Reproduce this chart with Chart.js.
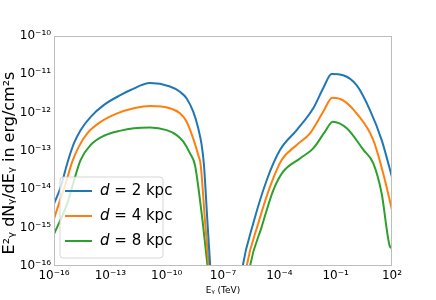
<!DOCTYPE html>
<html>
<head>
<meta charset="utf-8">
<script src="https://cdn.jsdelivr.net/npm/chart.js@4/dist/chart.umd.min.js"></script>
<style>
html,body{margin:0;padding:0;background:#fff;}
#wrap{width:436px;height:300px;}
</style>
</head>
<body>
<div id="wrap"><canvas id="c" width="436" height="300"></canvas></div>
<script>
// Photon energy (TeV) and flux E^2 dN/dE (erg/cm^2 s) for each distance
const seriesLabels = ['d = 2 kpc', 'd = 4 kpc', 'd = 8 kpc'];
const seriesColors = ['#1f77b4', '#ff7f0e', '#2ca02c'];
const yTitle = 'E\u00B2\u1D67 dN\u1D67/dE\u1D67 in erg/cm\u00B2s';
const xTitle = 'E\u1D67 (TeV)';

const energy2 = [1e-16, 2.3e-16, 5.1e-16, 1.16e-15, 2.6e-15, 9.0e-15, 4.6e-14, 3.6e-13, 1.2e-12, 1.3e-11, 1.5e-10, 5.1e-10, 1.16e-9, 2.6e-9, 4.8e-9, 7.3e-9, 9.7e-9, 1.46e-8, 2.1e-8, 2.8e-8,
                 6.3e-7, 1.1e-6, 4.1e-6, 2.1e-5, 1.1e-4, 8.4e-4, 6.4e-3, 2.2e-2, 6.1e-2, 0.25, 1.3, 6.7, 28, 100];
const flux2   = [4.2e-15, 1.17e-14, 4.8e-14, 1.6e-13, 3.5e-13, 7.8e-13, 1.6e-12, 2.9e-12, 3.9e-12, 5.9e-12, 4.8e-12, 3.5e-12, 2.35e-12, 1.06e-12, 3.9e-13, 1.44e-13, 4.3e-14, 1.6e-15, 9.5e-17, 1e-17,
                 1e-17, 9.5e-17, 1.3e-15, 1.7e-14, 1.07e-13, 3.5e-13, 1.3e-12, 4.4e-12, 1.02e-11, 9.5e-12, 5.2e-12, 1.17e-12, 1.95e-13, 2.1e-14];

const energy4 = [1e-16, 1.85e-16, 4.2e-16, 9.4e-16, 2.1e-15, 5.9e-15, 3.1e-14, 2.35e-13, 1.8e-12, 1.3e-11, 1.5e-10, 5.1e-10, 1.16e-9, 2.6e-9, 4.8e-9, 6.5e-9, 1.1e-8, 1.75e-8, 2.6e-8,
                 1.0e-6, 1.8e-6, 7.6e-6, 3.2e-5, 1.33e-4, 8.4e-4, 4.3e-3, 2.2e-2, 6.6e-2, 0.25, 1.3, 10, 34, 100];
const flux4   = [1.7e-15, 4.3e-15, 1.44e-14, 5.3e-14, 1.3e-13, 2.9e-13, 5.8e-13, 9.6e-13, 1.3e-12, 1.5e-12, 1.3e-12, 9.6e-13, 5.8e-13, 2.1e-13, 7.9e-14, 4.3e-14, 1.5e-15, 9.5e-17, 1e-17,
                 1e-17, 9.5e-17, 1.3e-15, 1.17e-14, 5.8e-14, 1.44e-13, 2.9e-13, 1.07e-12, 2.45e-12, 2.1e-12, 9.6e-13, 1.95e-13, 2.6e-14, 2.9e-15];

const energy8 = [1e-16, 5.1e-16, 1.16e-15, 2.6e-15, 9.0e-15, 4.6e-14, 3.6e-13, 1.8e-12, 1.3e-11, 1.0e-10, 3.4e-10, 7.7e-10, 1.75e-9, 3.2e-9, 7.3e-9, 1.1e-8, 1.5e-8, 2.2e-8,
                 1.5e-6, 2.7e-6, 1.15e-5, 4.8e-5, 1.6e-4, 1.26e-3, 6.4e-3, 2.7e-2, 6.9e-2, 0.39, 3.0, 10, 28, 78, 100];
const flux8   = [6.8e-16, 4.3e-15, 1.7e-14, 5.8e-14, 1.44e-13, 2.5e-13, 3.4e-13, 3.9e-13, 4.1e-13, 3.5e-13, 2.6e-13, 1.75e-13, 8.7e-14, 4.3e-14, 2.35e-15, 4.0e-16, 9.5e-17, 1e-17,
                 1e-17, 9.5e-17, 1.05e-15, 9.6e-15, 2.9e-14, 6.4e-14, 1.17e-13, 3.2e-13, 5.8e-13, 3.9e-13, 1.07e-13, 4.8e-14, 7.9e-15, 3.2e-16, 2.9e-16];

const xTicks = [1e-16, 1e-13, 1e-10, 1e-7, 1e-4, 1e-1, 1e2];
const yTicks = [1e-16, 1e-15, 1e-14, 1e-13, 1e-12, 1e-11, 1e-10];

const SUP = {'-':'\u207B','0':'\u2070','1':'\u00B9','2':'\u00B2','3':'\u00B3','4':'\u2074','5':'\u2075','6':'\u2076','7':'\u2077','8':'\u2078','9':'\u2079'};
function pow10Label(v){
  const e = Math.round(Math.log10(v));
  return '10' + String(e).split('').map(ch => SUP[ch]).join('');
}
function toPoints(xs, ys){ return xs.map((x,i) => ({x: x, y: ys[i]})); }

const FONT = 'DejaVu Sans';

const frame = {
  id: 'frame',
  afterDatasetsDraw(chart){
    const a = chart.chartArea, ctx = chart.ctx;
    ctx.save();
    ctx.strokeStyle = '#bdbdbd';
    ctx.lineWidth = 1;
    ctx.strokeRect(Math.round(a.left)+0.5, Math.round(a.top)+0.5, Math.round(a.right-a.left)-1, Math.round(a.bottom-a.top)-1);
    ctx.restore();
  }
};

const yAxisTitle = {
  id: 'yAxisTitle',
  afterDraw(chart){
    const a = chart.chartArea, ctx = chart.ctx;
    ctx.save();
    ctx.translate(10, (a.top + a.bottom) / 2 + 12);
    ctx.rotate(-Math.PI / 2);
    ctx.fillStyle = '#000';
    ctx.textAlign = 'center';
    ctx.textBaseline = 'middle';
    let size = 15;
    ctx.font = size + 'px "' + FONT + '"';
    const w = ctx.measureText(yTitle).width;
    size = Math.min(16, size * 198 / w);
    ctx.font = size + 'px "' + FONT + '"';
    ctx.fillText(yTitle, 0, 0);
    ctx.restore();
  }
};

const insideLegend = {
  id: 'insideLegend',
  afterDatasetsDraw(chart){
    const a = chart.chartArea, ctx = chart.ctx;
    const bx = a.left + 6, by = a.bottom - 89, bw = 103, bh = 81, r = 3;
    ctx.save();
    ctx.beginPath();
    ctx.moveTo(bx + r, by);
    ctx.lineTo(bx + bw - r, by); ctx.arcTo(bx + bw, by, bx + bw, by + r, r);
    ctx.lineTo(bx + bw, by + bh - r); ctx.arcTo(bx + bw, by + bh, bx + bw - r, by + bh, r);
    ctx.lineTo(bx + r, by + bh); ctx.arcTo(bx, by + bh, bx, by + bh - r, r);
    ctx.lineTo(bx, by + r); ctx.arcTo(bx, by, bx + r, by, r);
    ctx.closePath();
    ctx.fillStyle = 'rgba(255,255,255,0.8)';
    ctx.fill();
    ctx.strokeStyle = 'rgba(204,204,204,0.8)';
    ctx.lineWidth = 1;
    ctx.stroke();
    chart.data.datasets.forEach((ds, i) => {
      const y = by + 14 + i * 25;
      ctx.strokeStyle = ds.borderColor;
      ctx.lineWidth = 2;
      ctx.beginPath();
      ctx.moveTo(bx + 5, y); ctx.lineTo(bx + 32, y);
      ctx.stroke();
      ctx.fillStyle = '#000';
      ctx.textBaseline = 'middle';
      ctx.font = 'italic 15px "' + FONT + '"';
      const first = ds.label.charAt(0);
      ctx.fillText(first, bx + 40, y);
      const w = ctx.measureText(first).width;
      ctx.font = '15px "' + FONT + '"';
      ctx.fillText(ds.label.slice(1), bx + 40 + w, y);
    });
    ctx.restore();
  }
};

new Chart(document.getElementById('c'), {
  type: 'line',
  data: {
    datasets: [
      {label: seriesLabels[0], data: toPoints(energy2, flux2), borderColor: seriesColors[0]},
      {label: seriesLabels[1], data: toPoints(energy4, flux4), borderColor: seriesColors[1]},
      {label: seriesLabels[2], data: toPoints(energy8, flux8), borderColor: seriesColors[2]}
    ].map(d => Object.assign(d, {borderWidth: 2, pointRadius: 0, fill: false, cubicInterpolationMode: 'monotone'}))
  },
  options: {
    responsive: false,
    animation: false,
    layout: {padding: {top: 36, right: 44, left: 0, bottom: 0}},
    plugins: {legend: {display: false}, tooltip: {enabled: false}},
    scales: {
      x: {
        type: 'logarithmic', min: 1e-16, max: 1e2,
        afterBuildTicks: s => { s.ticks = xTicks.map(v => ({value: v})); },
        afterFit: s => { s.height = 34; },
        grid: {display: false, drawTicks: false},
        border: {display: false},
        ticks: {callback: v => pow10Label(v), color: '#000', font: {family: FONT, size: 12}, padding: 3, maxRotation: 0, autoSkip: false},
        title: {display: true, text: xTitle, color: '#000', font: {family: FONT, size: 9}, padding: {top: 0, bottom: 4}}
      },
      y: {
        type: 'logarithmic', min: 1e-16, max: 1e-10,
        afterBuildTicks: s => { s.ticks = yTicks.map(v => ({value: v})); },
        afterFit: s => { s.width = 54; },
        grid: {display: false, drawTicks: false},
        border: {display: false},
        ticks: {callback: v => pow10Label(v), color: '#000', font: {family: FONT, size: 12}, padding: 3, autoSkip: false},
        title: {display: false}
      }
    }
  },
  plugins: [frame, insideLegend, yAxisTitle]
});
</script>
</body>
</html>
